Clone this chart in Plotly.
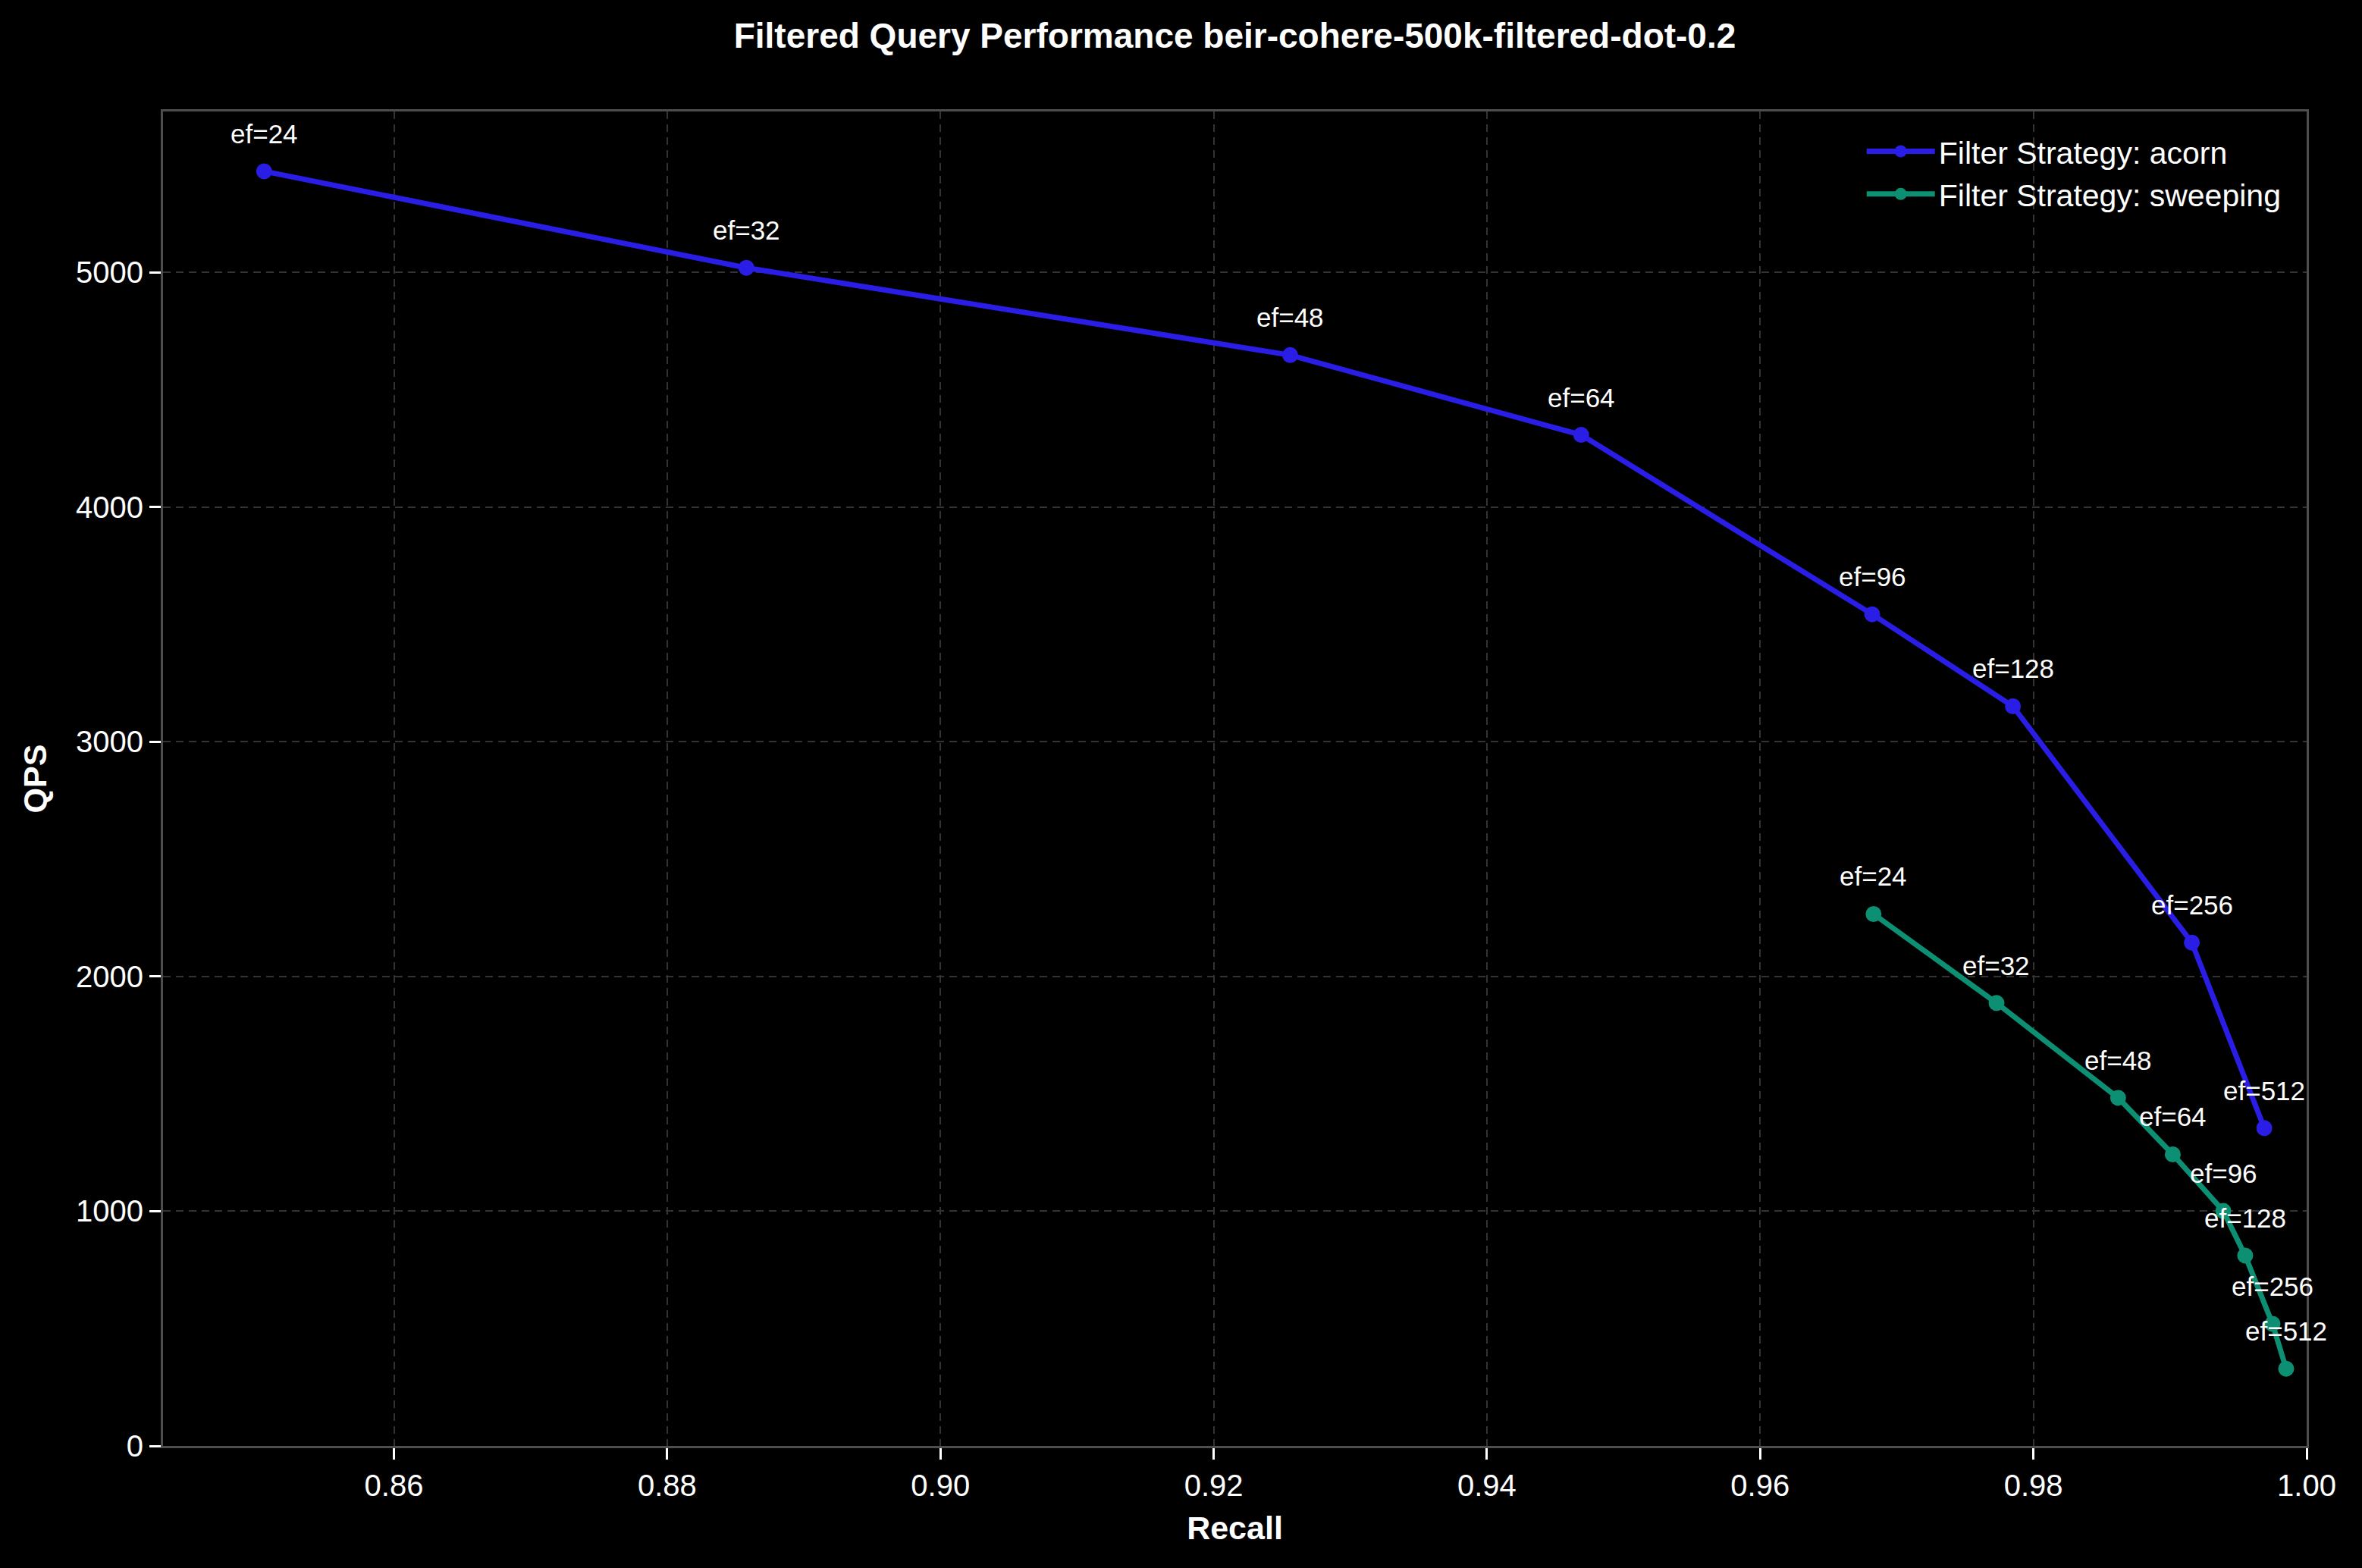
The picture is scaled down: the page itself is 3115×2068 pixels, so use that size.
import plotly.graph_objects as go

# ---- data ----
acorn_ef = [24, 32, 48, 64, 96, 128, 256, 512]
acorn_recall = [0.8505, 0.8858, 0.9256, 0.9469, 0.9682, 0.9785, 0.9916, 0.9969]
acorn_qps = [5430, 5019, 4647, 4307, 3543, 3151, 2144, 1354]

sweep_ef = [24, 32, 48, 64, 96, 128, 256, 512]
sweep_recall = [0.9683, 0.9773, 0.9862, 0.9902, 0.9939, 0.9955, 0.9975, 0.9985]
sweep_qps = [2266, 1887, 1483, 1242, 1001, 811, 520, 329]

x_ticks = [0.86, 0.88, 0.90, 0.92, 0.94, 0.96, 0.98, 1.00]
y_ticks = [0, 1000, 2000, 3000, 4000, 5000]

title_text = "Filtered Query Performance beir-cohere-500k-filtered-dot-0.2"

ACORN_COLOR = "#2a1de6"
SWEEP_COLOR = "#0d8f73"
FONT = "Liberation Sans, Arial, sans-serif"

fig = go.Figure()
fig.add_trace(go.Scatter(
    x=acorn_recall, y=acorn_qps, mode="lines+markers",
    name="Filter Strategy: acorn",
    line=dict(color=ACORN_COLOR, width=7),
    marker=dict(color=ACORN_COLOR, size=21),
))
fig.add_trace(go.Scatter(
    x=sweep_recall, y=sweep_qps, mode="lines+markers",
    name="Filter Strategy: sweeping",
    line=dict(color=SWEEP_COLOR, width=7),
    marker=dict(color=SWEEP_COLOR, size=21),
))

annotations = []
for xs, ys, efs in [(acorn_recall, acorn_qps, acorn_ef), (sweep_recall, sweep_qps, sweep_ef)]:
    for x, y, ef in zip(xs, ys, efs):
        annotations.append(dict(
            x=x, y=y, xref="x", yref="y", text=f"ef={ef}", showarrow=False,
            xanchor="center", yanchor="bottom", yshift=28,
            font=dict(family=FONT, size=35, color="white"),
        ))

axis_common = dict(
    showline=True, mirror=True, linecolor="#4d4d4d", linewidth=3,
    showgrid=True, gridcolor="#333333", gridwidth=2, griddash="10px,7px",
    zeroline=False, ticks="outside", ticklen=15, tickwidth=3, tickcolor="white",
    tickfont=dict(family=FONT, size=40, color="white"),
    automargin=False,
)

fig.update_layout(
    width=3115, height=2068,
    paper_bgcolor="black", plot_bgcolor="black",
    margin=dict(l=215, r=73, t=147, b=161),
    font=dict(family=FONT, color="white"),
    title=dict(text=f"<b>{title_text}</b>", x=0.5, xref="paper",
               y=1 - 47 / 2068, yref="container", yanchor="middle", xanchor="center",
               font=dict(family=FONT, size=46, color="white")),
    xaxis=dict(range=[0.8431, 1.0], tickvals=x_ticks, tickformat=".2f",
               title=dict(text="<b>Recall</b>", font=dict(family=FONT, size=43, color="white"), standoff=20),
               **axis_common),
    yaxis=dict(range=[0, 5685], tickvals=y_ticks,
               title=dict(text="<b>QPS</b>", font=dict(family=FONT, size=43, color="white"), standoff=25),
               **axis_common),
    legend=dict(x=0.99, xanchor="right", y=0.989, yanchor="top",
                bgcolor="rgba(0,0,0,0)", borderwidth=0,
                font=dict(family=FONT, size=41, color="white"),
                itemwidth=90, tracegroupgap=0),
    annotations=annotations,
    showlegend=True,
)

fig.write_html("out.html")
